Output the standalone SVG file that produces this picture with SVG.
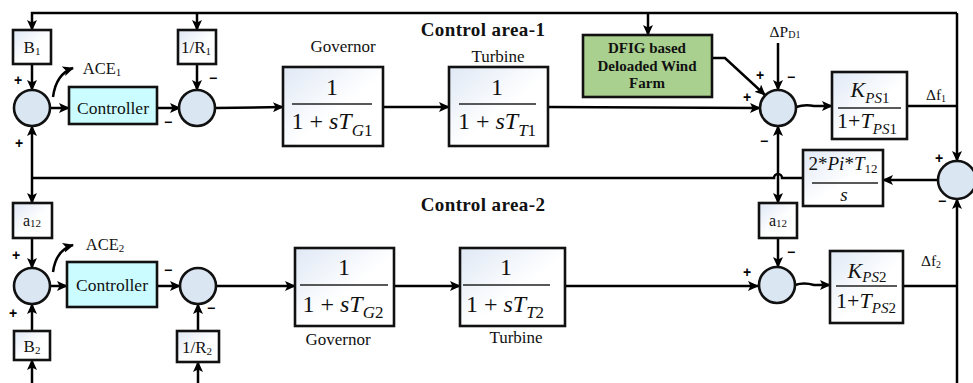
<svg xmlns="http://www.w3.org/2000/svg" width="973" height="383" viewBox="0 0 973 383">
<defs>
  <linearGradient id="bg" x1="0" y1="0" x2="1" y2="1">
    <stop offset="0" stop-color="#dfe8f5"/>
    <stop offset="0.55" stop-color="#ffffff"/>
  </linearGradient>
  <marker id="ah" viewBox="0 0 11 10" refX="10" refY="5" markerWidth="11" markerHeight="10" markerUnits="userSpaceOnUse" orient="auto">
    <path d="M0,0 L11,5 L0,10 L2.5,5 z" fill="#000"/>
  </marker>
</defs>
<style>
  .ln { fill: none; stroke: #000; stroke-width: 2.5; }
  .ar { marker-end: url(#ah); }
  .bx { fill: url(#bg); stroke: #111; stroke-width: 2.6; }
  .sm { fill: #dbe6f3; stroke: #111; stroke-width: 2.6; }
  .ctl { fill: #cbfcff; stroke: #111; stroke-width: 2.6; }
  .wind { fill: #a9d08e; stroke: #111; stroke-width: 2.6; }
  .t { font-family: "Liberation Serif", "Times New Roman", serif; fill: #111; text-anchor: middle; }
  .lb { font-size: 17px; }
  .fr { font-size: 24px; }
  .it { font-style: italic; }
  .bd { font-weight: bold; }
  .ttl { font-size: 19px; letter-spacing: 0.4px; }
  .sg { font-family: "Liberation Sans", Arial, sans-serif; font-weight: bold; font-size: 14px; text-anchor: middle; fill: #000; }
  .fl { stroke: #222; stroke-width: 1.3; }
</style>
<rect width="973" height="383" fill="#fff"/>

<!-- connectors -->
<g id="connectors">
  <path class="ln ar" d="M957,13 H32 V30"/>
  <path class="ln ar" d="M197,13 V30"/>
  <path class="ln ar" d="M648,13 V35"/>
  <path class="ln ar" d="M957,13 V161"/>
  <path class="ln ar" d="M32,64 V90"/>
  <path class="ln ar" d="M50,108 H69"/>
  <path class="ln ar" d="M157,108 H180"/>
  <path class="ln ar" d="M197,64 V90"/>
  <path class="ln ar" d="M215,108 L283,107"/>
  <path class="ln ar" d="M383,107 H449"/>
  <path class="ln ar" d="M548,107 L760,108"/>
  <path class="ln ar" d="M712,58 H725 L765,95"/>
  <path class="ln ar" d="M778,43 V90"/>
  <path class="ln ar" d="M796,107 Q805,104 814,106 H832"/>
  <path class="ln" d="M907,106 H957"/>
  <path class="ln ar" d="M938,180 H883"/>
  <path class="ln" d="M803,178 H782 A4,4 0 0 0 774,178 H32"/>
  <path class="ln ar" d="M32,178 V126"/>
  <path class="ln ar" d="M32,178 V203"/>
  <path class="ln ar" d="M778,178 V126"/>
  <path class="ln ar" d="M778,178 V203"/>
  <path class="ln ar" d="M32,238 V268"/>
  <path class="ln ar" d="M32,331 V304"/>
  <path class="ln ar" d="M32,383 V360"/>
  <path class="ln ar" d="M50,286 H67"/>
  <path class="ln ar" d="M157,286 H180"/>
  <path class="ln ar" d="M198,331 V304"/>
  <path class="ln ar" d="M198,383 V362"/>
  <path class="ln ar" d="M216,286 H295"/>
  <path class="ln ar" d="M394,286 H460"/>
  <path class="ln ar" d="M565,286 H758"/>
  <path class="ln ar" d="M778,238 V267"/>
  <path class="ln ar" d="M795,285 Q804,282 814,285 H830"/>
  <path class="ln" d="M903,286 H957"/>
  <path class="ln ar" d="M957,383 V199"/>
  <path class="ln ar" d="M53,97 Q56,74 73,68"/>
  <path class="ln ar" d="M53,272 Q56,250 73,245"/>
</g>

<!-- area 1 -->
<g id="B1">
  <rect class="bx" x="13" y="30" width="38" height="34"/>
  <text class="t lb" x="32" y="53">B<tspan font-size="11" dy="2">1</tspan></text>
</g>
<g id="sum1">
  <circle class="sm" cx="32" cy="108" r="18"/>
  <text class="sg" x="18" y="85">+</text>
  <text class="sg" x="19" y="148">+</text>
</g>
<g id="ACE1">
  <text class="t" x="102" y="74" font-size="16.5">ACE<tspan font-size="11" dy="2">1</tspan></text>
</g>
<g id="controller1">
  <rect class="ctl" x="69" y="87" width="88" height="37"/>
  <text class="t" x="113" y="114" font-size="17.5">Controller</text>
</g>
<g id="R1">
  <rect class="bx" x="178" y="30" width="38" height="34"/>
  <text class="t lb" x="196" y="53">1/R<tspan font-size="11" dy="2">1</tspan></text>
</g>
<g id="sum2">
  <circle class="sm" cx="197" cy="108" r="18"/>
  <text class="sg" x="213" y="83">−</text>
  <text class="sg" x="168" y="127">−</text>
</g>
<g id="governor1">
  <text class="t lb" x="343" y="52">Governor</text>
  <rect class="bx" x="283" y="67" width="100" height="79"/>
  <text class="t fr" x="332" y="95">1</text>
  <line class="fl" x1="292" y1="104" x2="372" y2="104"/>
  <text class="t fr" x="332" y="129">1 + <tspan class="it">sT</tspan><tspan class="it" font-size="17" dy="7">G</tspan><tspan font-size="17">1</tspan></text>
</g>
<g id="turbine1">
  <text class="t lb" x="498" y="62">Turbine</text>
  <rect class="bx" x="449" y="67" width="99" height="79"/>
  <text class="t fr" x="497" y="95">1</text>
  <line class="fl" x1="459" y1="104" x2="536" y2="104"/>
  <text class="t fr" x="497" y="129">1 + <tspan class="it">sT</tspan><tspan class="it" font-size="17" dy="7">T</tspan><tspan font-size="17">1</tspan></text>
</g>
<g id="title1">
  <text class="t bd ttl" x="483" y="36">Control area-1</text>
</g>
<g id="windfarm">
  <rect class="wind" x="583" y="35" width="129" height="62"/>
  <text class="t bd" x="647" y="53" font-size="15">DFIG based</text>
  <text class="t bd" x="647" y="71" font-size="15">Deloaded Wind</text>
  <text class="t bd" x="647" y="88" font-size="15">Farm</text>
</g>
<g id="dPD1">
  <text class="t" x="785" y="37" font-size="15.5">ΔP<tspan font-size="10" dy="1">D1</tspan></text>
</g>
<g id="sum3">
  <circle class="sm" cx="778" cy="108" r="18"/>
  <text class="sg" x="760" y="80">+</text>
  <text class="sg" x="791" y="82">−</text>
  <text class="sg" x="747" y="102">+</text>
  <text class="sg" x="764" y="146">−</text>
</g>
<g id="power1">
  <rect class="bx" x="832" y="72" width="75" height="67"/>
  <text class="t" x="870" y="97" font-size="22"><tspan class="it">K</tspan><tspan class="it" font-size="15" dy="6">PS</tspan><tspan font-size="15">1</tspan></text>
  <line class="fl" x1="838" y1="108" x2="901" y2="108"/>
  <text class="t" x="867" y="128" font-size="22">1+<tspan class="it">T</tspan><tspan class="it" font-size="15" dy="6">PS</tspan><tspan font-size="15">1</tspan></text>
</g>
<g id="df1">
  <text class="t" x="936" y="100" font-size="15.5">Δf<tspan font-size="10" dy="2">1</tspan></text>
</g>
<g id="sum4">
  <circle class="sm" cx="957" cy="180" r="19"/>
  <text class="sg" x="939" y="163">+</text>
  <text class="sg" x="942" y="206">−</text>
</g>
<g id="tieline">
  <rect class="bx" x="803" y="150" width="80" height="56"/>
  <text class="t" x="843" y="170" font-size="19">2*<tspan class="it">Pi</tspan>*<tspan class="it">T</tspan><tspan font-size="13" dy="3">12</tspan></text>
  <line class="fl" x1="812" y1="183" x2="878" y2="183"/>
  <text class="t it" x="844" y="201" font-size="19">s</text>
</g>

<!-- area 2 -->
<g id="title2">
  <text class="t bd ttl" x="483" y="211">Control area-2</text>
</g>
<g id="a12left">
  <rect class="bx" x="13" y="203" width="39" height="35"/>
  <text class="t" x="32" y="226" font-size="16">a<tspan font-size="11" dy="1">12</tspan></text>
</g>
<g id="sum5">
  <circle class="sm" cx="32" cy="286" r="18"/>
  <text class="sg" x="16" y="260">+</text>
  <text class="sg" x="13" y="318">+</text>
</g>
<g id="ACE2">
  <text class="t" x="105" y="250" font-size="16.5">ACE<tspan font-size="11" dy="2">2</tspan></text>
</g>
<g id="B2">
  <rect class="bx" x="14" y="331" width="36" height="29"/>
  <text class="t lb" x="32" y="352">B<tspan font-size="11" dy="2">2</tspan></text>
</g>
<g id="controller2">
  <rect class="ctl" x="67" y="262" width="90" height="45"/>
  <text class="t" x="112" y="291" font-size="17.5">Controller</text>
</g>
<g id="sum6">
  <circle class="sm" cx="198" cy="286" r="18"/>
  <text class="sg" x="168" y="275">−</text>
  <text class="sg" x="211" y="313">−</text>
</g>
<g id="R2">
  <rect class="bx" x="177" y="331" width="42" height="31"/>
  <text class="t lb" x="197" y="353">1/R<tspan font-size="11" dy="2">2</tspan></text>
</g>
<g id="governor2">
  <rect class="bx" x="295" y="248" width="99" height="78"/>
  <text class="t fr" x="344" y="275">1</text>
  <line class="fl" x1="300" y1="285" x2="388" y2="285"/>
  <text class="t fr" x="343" y="312">1 + <tspan class="it">sT</tspan><tspan class="it" font-size="17" dy="6">G</tspan><tspan font-size="17">2</tspan></text>
  <text class="t lb" x="338" y="345">Governor</text>
</g>
<g id="turbine2">
  <rect class="bx" x="460" y="248" width="105" height="78"/>
  <text class="t fr" x="506" y="275">1</text>
  <line class="fl" x1="463" y1="285" x2="550" y2="285"/>
  <text class="t fr" x="505" y="312">1 + <tspan class="it">sT</tspan><tspan class="it" font-size="17" dy="6">T</tspan><tspan font-size="17">2</tspan></text>
  <text class="t lb" x="516" y="343">Turbine</text>
</g>
<g id="a12right">
  <rect class="bx" x="759" y="203" width="38" height="35"/>
  <text class="t" x="778" y="226" font-size="16">a<tspan font-size="11" dy="1">12</tspan></text>
</g>
<g id="sum7">
  <circle class="sm" cx="777" cy="285" r="18"/>
  <text class="sg" x="747" y="277">+</text>
  <text class="sg" x="791" y="257">−</text>
</g>
<g id="power2">
  <rect class="bx" x="830" y="251" width="73" height="72"/>
  <text class="t" x="867" y="278" font-size="22"><tspan class="it">K</tspan><tspan class="it" font-size="15" dy="4">PS</tspan><tspan font-size="15">2</tspan></text>
  <line class="fl" x1="836" y1="286" x2="897" y2="286"/>
  <text class="t" x="866" y="308" font-size="22">1+<tspan class="it">T</tspan><tspan class="it" font-size="15" dy="5">PS</tspan><tspan font-size="15">2</tspan></text>
</g>
<g id="df2">
  <text class="t" x="931" y="266" font-size="15.5">Δf<tspan font-size="10" dy="2">2</tspan></text>
</g>
</svg>
